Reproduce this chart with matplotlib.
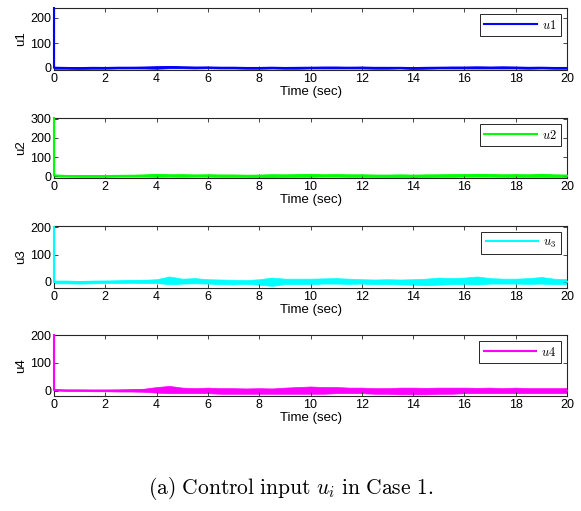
import matplotlib
matplotlib.use("Agg")
import matplotlib.pyplot as plt
import numpy as np

plt.rcParams['font.family'] = ['Liberation Sans', 'DejaVu Sans']
plt.rcParams['mathtext.fontset'] = 'cm'

# time knots (s)
t = [0, 0.5, 1, 1.5, 2, 2.5, 3, 3.5, 4, 4.5, 5, 5.5, 6, 6.5, 7, 7.5, 8, 8.5, 9, 9.5,
     10, 10.5, 11, 11.5, 12, 12.5, 13, 13.5, 14, 14.5, 15, 15.5, 16, 16.5, 17, 17.5,
     18, 18.5, 19, 19.5, 20]

# initial peak values at t = 0
peaks = [240, 305, 200, 200]

# upper / lower envelopes of the noisy signals
u1_hi = [5, 3, 3, 4, 3, 4, 4, 5, 7, 8, 6, 5, 5, 4, 4, 3, 3, 4, 3, 4,
         4, 5, 5, 4, 5, 4, 4, 3, 3, 4, 4, 5, 5, 6, 5, 6, 5, 4, 4, 3, 3]
u1_lo = [-3, -3, -4, -3, -3, -2, -2, -2, -3, -1, -1, -2, -1, -2, -2, -3, -3, -2, -3, -3,
         -2, -2, -2, -2, -2, -3, -3, -2, -4, -3, -2, -2, -2, -2, -2, -2, -2, -3, -2, -3, -3]
u2_hi = [8, 4, 4, 4, 4, 5, 6, 8, 12, 9, 10, 8, 9, 8, 8, 7, 8, 10, 9, 10,
         12, 9, 10, 9, 9, 8, 8, 9, 8, 9, 9, 10, 10, 12, 11, 9, 10, 9, 12, 9, 8]
u2_lo = [-2, -3, -4, -4, -4, -3, -3, -3, -4, -3, -4, -3, -3, -4, -4, -5, -6, -7, -5, -4,
         -4, -3, -3, -4, -4, -5, -6, -6, -7, -6, -4, -4, -3, -3, -3, -4, -4, -4, -4, -5, -5]
u3_hi = [5, 5, 4, 5, 5, 6, 7, 8, 10, 20, 12, 14, 10, 9, 8, 7, 10, 16, 12, 12,
         12, 13, 14, 12, 10, 9, 10, 9, 10, 12, 16, 14, 16, 20, 14, 12, 12, 14, 18, 12, 10]
u3_lo = [-5, -5, -6, -5, -4, -4, -3, -4, -4, -8, -6, -5, -6, -8, -9, -7, -10, -14, -8, -8,
         -8, -6, -6, -7, -6, -8, -8, -9, -10, -12, -10, -8, -8, -9, -6, -6, -6, -7, -6, -8, -8]
u4_hi = [5, 4, 4, 4, 4, 5, 6, 8, 14, 18, 12, 10, 12, 10, 10, 9, 10, 9, 12, 14,
         16, 14, 14, 12, 12, 10, 10, 12, 12, 11, 12, 12, 12, 11, 12, 10, 12, 10, 10, 10, 10]
u4_lo = [2, 0, 0, -1, -1, -2, -2, -3, -6, -8, -8, -8, -8, -10, -10, -10, -10, -10, -10, -10,
         -10, -10, -8, -8, -8, -10, -10, -12, -12, -12, -10, -10, -8, -8, -8, -8, -8, -8, -8, -8, -8]

names = ['u1', 'u2', 'u3', 'u4']
legend_labels = [r'$u1$', r'$u2$', r'$u_3$', r'$u4$']
colors = ['#0000FF', '#00FF00', '#00FFFF', '#FF00FF']
his = [u1_hi, u2_hi, u3_hi, u4_hi]
los = [u1_lo, u2_lo, u3_lo, u4_lo]
ylims = [(-8, 240), (-10, 305), (-22, 204), (-18, 200)]
yticks = [[0, 100, 200], [0, 100, 200, 300], [0, 100, 200], [0, 100, 200]]

fig = plt.figure(figsize=(5.81, 5.11), dpi=100)
W = 581.0
H = 511.0
boxes = [(8, 70), (118, 178), (226, 288), (335, 396)]
left, right = 54, 567

for i in range(4):
    top, bot = boxes[i]
    ax = fig.add_axes([left / W, 1 - bot / H, (right - left) / W, (bot - top) / H])
    hi = np.array(his[i], dtype=float)
    lo = np.array(los[i], dtype=float)
    mid = (hi + lo) / 2
    ax.fill_between(t, lo, hi, color=colors[i], linewidth=0.5, edgecolor=colors[i])
    ax.plot([0] + t, [peaks[i]] + list(mid), color=colors[i], lw=1.5,
            label=legend_labels[i], clip_on=False, zorder=5)
    ax.set_xlim(0, 20)
    ax.set_ylim(*ylims[i])
    ax.set_xticks(range(0, 21, 2))
    ax.set_yticks(yticks[i])
    ax.tick_params(direction='in', top=True, right=True, labelsize=9, length=3,
                   width=0.6, colors='#262626', labelcolor='black', pad=2)
    for s in ax.spines.values():
        s.set_color('#262626')
        s.set_linewidth(0.8)
    ax.set_xlabel('Time (sec)', fontsize=9.5, labelpad=1)
    ax.set_ylabel(names[i], fontsize=9.5, labelpad=2)
    leg = ax.legend(loc='upper right', fontsize=9, fancybox=False, framealpha=1,
                    edgecolor='#262626', handlelength=4.2, borderpad=0.35,
                    handletextpad=0.4, borderaxespad=0.5)
    leg.get_frame().set_linewidth(0.7)
    leg.set_zorder(10)

fig.text(0.5, 1 - 488 / H, r'$\mathrm{(a)\ Control\ input\ }u_i\mathrm{\ in\ Case\ 1.}$',
         ha='center', va='center', fontsize=15.5)

fig.savefig('out.png', dpi=100)
